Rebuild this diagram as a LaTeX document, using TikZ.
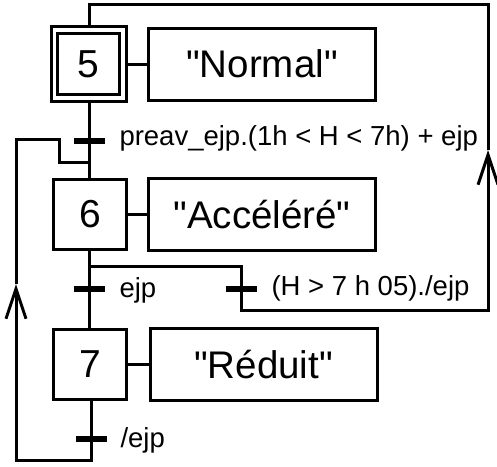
\documentclass[tikz,border=0pt]{standalone}
\usepackage{fontspec}
\setmainfont{Liberation Sans}[Ligatures=TeXOff]
\usetikzlibrary{arrows.meta}
\begin{document}
\begin{tikzpicture}[x=1pt,y=-1pt,
  line width=3pt,
  stepbox/.style={draw, minimum width=73pt, minimum height=70pt, inner sep=0pt,
    font=\fontsize{39}{39}\selectfont},
  actbox/.style={draw, minimum width=227pt, minimum height=72pt, inner sep=0pt,
    font=\fontsize{38.5}{38.5}\selectfont},
  bar/.style={draw=none, fill=black, minimum width=31pt, minimum height=6pt, inner sep=0pt},
  cond/.style={anchor=base west, inner sep=0pt, font=\fontsize{27.5}{27.5}\selectfont},
  up/.style={-{Straight Barb[length=30pt,width=20pt,line width=3pt]}}
]
\useasboundingbox (0,0) rectangle (497,466);

% steps (step 5 is the initial step: double frame)
\node[stepbox, minimum width=75pt, minimum height=75pt] (s5) at (88.5,64) {};
\node[stepbox, minimum width=62pt, minimum height=61pt] (s5i) at (88,64) {5};
\node[stepbox] (s6) at (90,214.5) {6};
\node[stepbox] (s7) at (90,364.5) {7};

% actions
\node[actbox] (a5) at (262,64) {"Normal"};
\node[actbox] (a6) at (262,214.5) {"Accéléré"};
\node[actbox] (a7) at (263.5,364.5) {"Réduit"};
\draw (s5.east) -- (a5.west);
\draw (s6.east) -- (a6.west);
\draw (s7.east) -- (a7.west);

% transitions
\node[bar] (t1) at (89,141) {};
\node[bar] (t2) at (89,289) {};
\node[bar] (t3) at (241,289) {};
\node[bar] (t4) at (91,439) {};

% receptivities
\node[cond] (l1) at (118,145) {preav\_ejp.(1h < H < 7h) + ejp};
\node[cond] (l2) at (118,297) {ejp};
\node[cond] (l3) at (270,295) {(H > 7 h 05)./ejp};
\node[cond] (l4) at (119,447) {/ejp};

% helper points of the loops
\coordinate (top5) at (89,4);
\coordinate (topR) at (488,4);
\coordinate (arrR) at (488,150);
\coordinate (botR) at (488,310);
\coordinate (div6) at (89,266);
\coordinate (botL) at (16,460);
\coordinate (arrL) at (16,284);
\coordinate (topL) at (16,139);
\coordinate (kink) at (59,139);
\coordinate (join6) at (89,162);

% main sequence
\draw (s5.south -| t1) -- (t1.center) -- (s6.north -| t1);
\draw (s6.south -| t2) -- (t2.center) -- (s7.north -| t2);
\draw (s7.south -| t4) -- (t4.center);

% branch 6 -> 5 through (H > 7 h 05)./ejp
\draw (div6) -| (t3.center);
\draw[up] (t3.center) |- (botR) -- (arrR);
\draw (arrR) -- (topR) -- (top5) -- (s5.north -| top5);

% loop 7 -> 6 through /ejp
\draw[up] (t4.center) |- (botL) -- (arrL);
\draw (arrL) -- (topL) -- (kink) |- (join6);
\end{tikzpicture}
\end{document}
